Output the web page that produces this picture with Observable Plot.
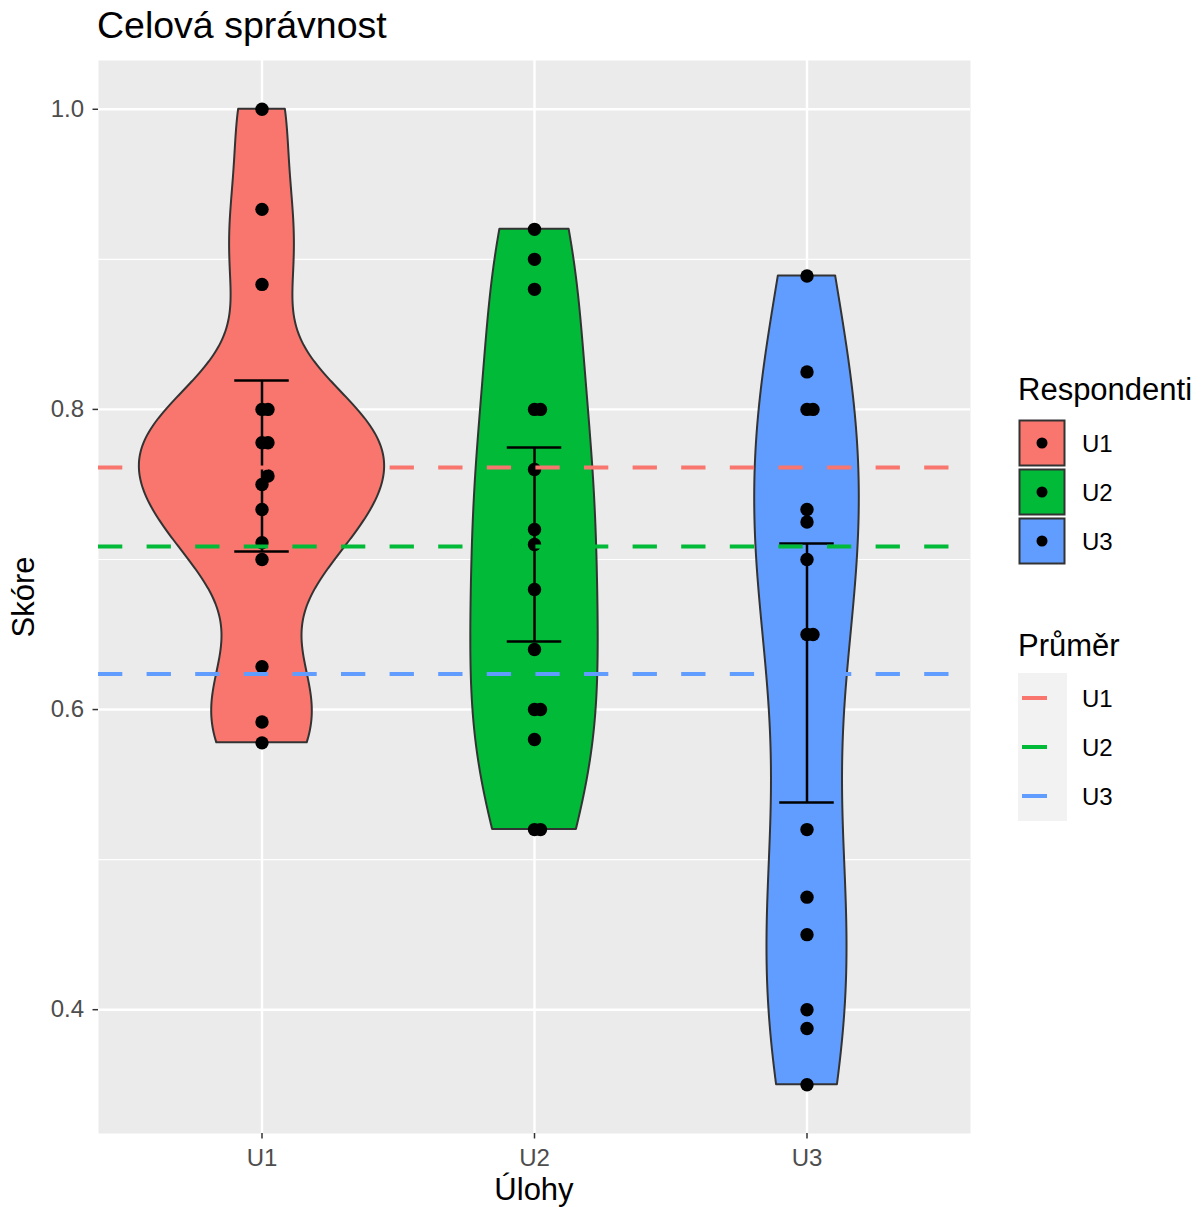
<!DOCTYPE html>
<html><head><meta charset="utf-8">
<script src="https://cdn.jsdelivr.net/npm/d3@7"></script>
<script src="https://cdn.jsdelivr.net/npm/@observablehq/plot@0.6"></script>
<style>
body{margin:0;background:#fff;font-family:"Liberation Sans",Arial,sans-serif;}
#root{position:relative;width:1204px;height:1207px;overflow:hidden;background:#fff;}
#root svg{position:absolute;left:0;top:0;}
</style></head><body><div id="root"></div>
<script>
// ---- data ----
const categories = ["U1", "U2", "U3"];
const colors = ["#F8766D", "#00BA38", "#619CFF"];
const scoresU1 = [1.0, 0.9333, 0.8833, 0.8, 0.8, 0.7778, 0.7778, 0.7556, 0.75, 0.7333, 0.7111, 0.7, 0.6286, 0.5917, 0.5778];
const scoresU2 = [0.92, 0.9, 0.88, 0.8, 0.8, 0.76, 0.72, 0.71, 0.68, 0.64, 0.6, 0.6, 0.58, 0.52, 0.52];
const scoresU3 = [0.8889, 0.825, 0.8, 0.8, 0.7333, 0.725, 0.7, 0.65, 0.65, 0.52, 0.475, 0.45, 0.4, 0.3875, 0.35];
const errLow = [0.7053, 0.6453, 0.538];
const errHigh = [0.8193, 0.7747, 0.7107];
const yTicks = [0.4, 0.6, 0.8, 1.0];
const yMinor = [0.5, 0.7, 0.9];
const chartTitle = "Celová správnost";
const xTitle = "Úlohy";
const yTitle = "Skóre";
const legendFillTitle = "Respondenti";
const legendMeanTitle = "Průměr";

// ---- derived tables ----
const groups = [scoresU1, scoresU2, scoresU3];
const means = groups.map(g => d3.mean(g));
const all = groups.flat();
const lo0 = d3.min(all), hi0 = d3.max(all), pad = (hi0 - lo0) * 0.05;
const yDomain = [lo0 - pad, hi0 + pad];

function kde(values) {
  const n = values.length;
  const s = values.slice().sort(d3.ascending);
  const sd = d3.deviation(s);
  const iqr = d3.quantileSorted(s, 0.75) - d3.quantileSorted(s, 0.25);
  const bw = 0.9 * Math.min(sd, iqr / 1.34) * Math.pow(n, -0.2);
  const lo = s[0], hi = s[n - 1];
  return d3.range(512).map(k => {
    const y = lo + (hi - lo) * k / 511;
    const d = d3.sum(s, v => Math.exp(-0.5 * ((y - v) / bw) ** 2)) / (n * bw * Math.sqrt(2 * Math.PI));
    return {y, d};
  });
}
const dens = groups.map(kde);
const maxD = d3.max(dens.flat(), r => r.d);
const violin = [];
dens.forEach((rows, gi) => rows.forEach(r => violin.push({cat: categories[gi], i: gi + 1, y: r.y, w: 0.45 * r.d / maxD})));

const points = [];
groups.forEach((g, gi) => {
  const placed = [];
  g.slice().sort(d3.ascending).forEach(v => {
    let dx = 0;
    while (placed.some(p => p.dx === dx && Math.abs(p.v - v) < 0.006)) dx += 0.022;
    placed.push({v, dx});
    points.push({cat: categories[gi], i: gi + 1, v, dx});
  });
});
const eb = categories.map((c, k) => ({cat: c, i: k + 1, lo: errLow[k], hi: errHigh[k]}));
const ebCaps = eb.flatMap(e => [{i: e.i, y: e.lo}, {i: e.i, y: e.hi}]);
const meanRows = categories.map((c, k) => ({cat: c, m: means[k]}));

const font = "Liberation Sans, Arial, Helvetica, sans-serif";
const plot = Plot.plot({
  width: 1000, height: 1207,
  marginLeft: 98, marginRight: 30, marginTop: 60, marginBottom: 74,
  x: {domain: [0.4, 3.6], axis: null},
  y: {domain: yDomain, axis: null},
  color: {domain: categories, range: colors},
  style: {fontFamily: font, background: "transparent", overflow: "visible"},
  marks: [
    Plot.frame({fill: "#EBEBEB", stroke: "none"}),
    Plot.gridY(yMinor, {stroke: "white", strokeOpacity: 1, strokeWidth: 1.2}),
    Plot.gridY(yTicks, {stroke: "white", strokeOpacity: 1, strokeWidth: 2.4}),
    Plot.gridX([1, 2, 3], {stroke: "white", strokeOpacity: 1, strokeWidth: 2.4}),
    Plot.areaX(violin, {y: "y", x1: d => d.i - d.w, x2: d => d.i + d.w, z: "cat", fill: "cat", stroke: "#333333", strokeWidth: 2, fillOpacity: 1}),
    Plot.ruleX(eb, {x: "i", y1: "lo", y2: "hi", stroke: "black", strokeWidth: 2.5}),
    Plot.ruleY(ebCaps, {y: "y", x1: d => d.i - 0.1, x2: d => d.i + 0.1, stroke: "black", strokeWidth: 2.5}),
    Plot.dot(points, {x: d => d.i + d.dx, y: "v", r: 6.7, fill: "black", stroke: "none"}),
    Plot.ruleY(meanRows, {y: "m", stroke: "cat", strokeWidth: 4, strokeDasharray: "24.3,24.3"}),
    Plot.axisY(yTicks, {tickSize: 5.5, tickPadding: 9, fontSize: 24, fill: "#4D4D4D", stroke: "#333333", strokeWidth: 1.5, tickFormat: d3.format(".1f"), label: null}),
    Plot.axisX([1, 2, 3], {tickSize: 5.5, tickPadding: 10, fontSize: 24, fill: "#4D4D4D", stroke: "#333333", strokeWidth: 1.5, tickFormat: d => categories[d - 1], label: null})
  ]
});
const root = document.getElementById("root");
root.appendChild(plot);

// ---- overlay: titles and legends ----
const ov = d3.select(root).append("svg").attr("width", 1204).attr("height", 1207)
  .style("font-family", font).style("pointer-events", "none");
ov.append("text").attr("x", 97).attr("y", 38).attr("font-size", 37.5).attr("fill", "black").text(chartTitle);
ov.append("text").attr("x", 534).attr("y", 1200).attr("text-anchor", "middle").attr("font-size", 31).attr("fill", "black").text(xTitle);
ov.append("text").attr("transform", "translate(34,597) rotate(-90)").attr("text-anchor", "middle").attr("font-size", 31).attr("fill", "black").text(yTitle);

ov.append("text").attr("x", 1018).attr("y", 400).attr("font-size", 31).attr("fill", "black").text(legendFillTitle);
categories.forEach((c, k) => {
  const cy = 443 + 49 * k;
  ov.append("rect").attr("x", 1019.5).attr("y", cy - 22.5).attr("width", 45).attr("height", 45)
    .attr("fill", colors[k]).attr("stroke", "#333333").attr("stroke-width", 2);
  ov.append("circle").attr("cx", 1042).attr("cy", cy).attr("r", 5.5).attr("fill", "black");
  ov.append("text").attr("x", 1082).attr("y", cy).attr("dy", "0.36em").attr("font-size", 24).attr("fill", "black").text(c);
});
ov.append("text").attr("x", 1018).attr("y", 656).attr("font-size", 31).attr("fill", "black").text(legendMeanTitle);
ov.append("rect").attr("x", 1018).attr("y", 673).attr("width", 49).attr("height", 148).attr("fill", "#F2F2F2");
categories.forEach((c, k) => {
  const cy = 698 + 49 * k;
  ov.append("line").attr("x1", 1022).attr("x2", 1047).attr("y1", cy).attr("y2", cy)
    .attr("stroke", colors[k]).attr("stroke-width", 4);
  ov.append("text").attr("x", 1082).attr("y", cy).attr("dy", "0.36em").attr("font-size", 24).attr("fill", "black").text(c);
});
</script></body></html>
